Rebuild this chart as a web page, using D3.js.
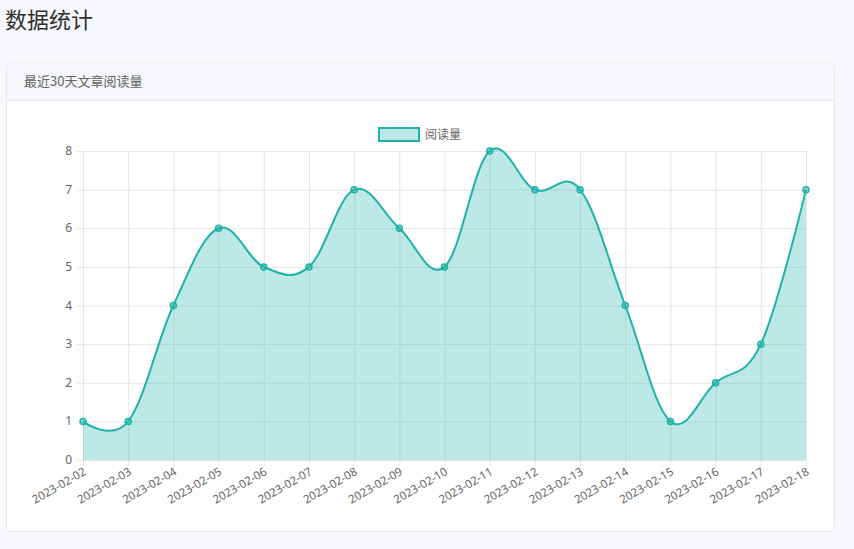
<!DOCTYPE html>
<html>
<head>
<meta charset="utf-8">
<script src="https://cdn.jsdelivr.net/npm/d3@7"></script>
<style>
  body { margin: 0; background: #f7f8fc; font-family: "Noto Sans CJK SC", "Noto Sans", sans-serif; }
</style>
</head>
<body>
<div id="chart-area"></div>
<script>
let dates = ["2023-02-02","2023-02-03","2023-02-04","2023-02-05","2023-02-06","2023-02-07",
    "2023-02-08","2023-02-09","2023-02-10","2023-02-11","2023-02-12","2023-02-13",
    "2023-02-14","2023-02-15","2023-02-16","2023-02-17","2023-02-18"];
let views = [1,1,4,6,5,5,7,6,5,8,7,7,4,1,2,3,7];
let yTicks = [0,1,2,3,4,5,6,7,8];

let W = 854, H = 549;
let svg = d3.select("#chart-area").append("svg")
    .attr("width", W).attr("height", H);

svg.append("text").attr("x", 5).attr("y", 28)
    .attr("font-size", "22px").attr("fill", "#303133").text("数据统计");

// card
svg.append("rect").attr("x", 6.5).attr("y", 62.5).attr("width", 828).attr("height", 469)
    .attr("rx", 4).attr("fill", "#fff").attr("stroke", "#e4e7ed");
svg.append("path").attr("d", "M7,62.5 h827 v38 h-827 z").attr("fill", "#f5f7fa");
svg.append("line").attr("x1", 7).attr("x2", 834).attr("y1", 100.5).attr("y2", 100.5)
    .attr("stroke", "#e4e7ed");
svg.append("text").attr("x", 24).attr("y", 86).attr("font-size", "13px")
    .attr("fill", "#606266").text("最近30天文章阅读量");

let margin = { left: 83, right: 48, top: 151, bottom: 89 };
let width = W - margin.left - margin.right,
    height = H - margin.top - margin.bottom;
let g = svg.append("g").attr("transform", `translate(${margin.left}, ${margin.top})`);

let x = d3.scalePoint().domain(dates).range([0, width]);
let y = d3.scaleLinear().domain([0, 8]).range([height, 0]);

// grid
g.selectAll(".hgrid").data(yTicks).enter().append("line")
    .attr("x1", -6).attr("x2", width)
    .attr("y1", d => y(d) + 0.5).attr("y2", d => y(d) + 0.5)
    .attr("stroke", "#e5e5e5");
g.selectAll(".vgrid").data(dates).enter().append("line")
    .attr("x1", d => x(d) + 0.5).attr("x2", d => x(d) + 0.5)
    .attr("y1", 0).attr("y2", height + 6)
    .attr("stroke", "#e5e5e5");

g.selectAll(".ylab").data(yTicks).enter().append("text")
    .attr("x", -11).attr("y", d => y(d) + 4)
    .attr("text-anchor", "end").attr("font-size", "12px").attr("fill", "#666")
    .attr("font-family", "Noto Sans, sans-serif")
    .text(d => d);

g.selectAll(".xlab").data(dates).enter().append("text")
    .attr("transform", d => `translate(${x(d) + 4}, ${height + 14}) rotate(-30)`)
    .attr("text-anchor", "end").attr("font-size", "11.5px").attr("fill", "#666")
    .attr("font-family", "Noto Sans, sans-serif")
    .text(d => d);

let curve = d3.curveCardinal.tension(-0.1);
let area = d3.area().x(d => x(d.date)).y0(height).y1(d => y(d.v)).curve(curve);
let line = d3.line().x(d => x(d.date)).y(d => y(d.v)).curve(curve);
let data = dates.map((d, i) => ({ date: d, v: views[i] }));

g.append("path").datum(data).attr("d", area).attr("fill", "rgba(32,178,170,0.3)");
g.append("path").datum(data).attr("d", line).attr("fill", "none")
    .attr("stroke", "#20b2aa").attr("stroke-width", 2);
g.selectAll(".pt").data(data).enter().append("circle")
    .attr("cx", d => x(d.date)).attr("cy", d => y(d.v)).attr("r", 3)
    .attr("fill", "rgba(32,178,170,0.5)").attr("stroke", "#20b2aa").attr("stroke-width", 1.5);

// legend
svg.append("rect").attr("x", 379).attr("y", 128).attr("width", 40).attr("height", 13)
    .attr("fill", "rgba(32,178,170,0.3)").attr("stroke", "#20b2aa").attr("stroke-width", 2);
svg.append("text").attr("x", 425).attr("y", 139).attr("font-size", "12px")
    .attr("fill", "#666").text("阅读量");
</script>
</body>
</html>
